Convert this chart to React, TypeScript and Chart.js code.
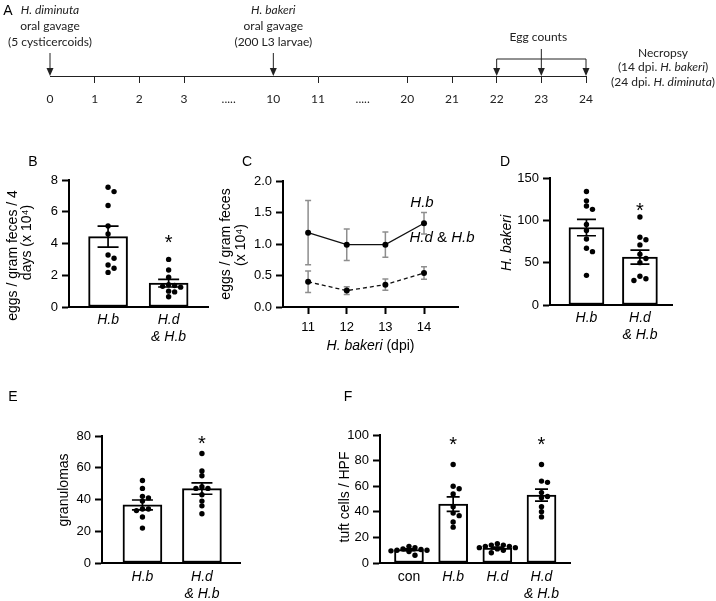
import React, { useEffect, useRef } from 'react';
import { Chart, registerables } from 'chart.js';

Chart.register(...registerables);

const SANS = '"Liberation Sans", Arial, sans-serif';
const TL_FONT = 'Lato, "Open Sans", sans-serif';
Chart.defaults.font.family = SANS;
Chart.defaults.color = '#000';

// ---------- Panel A: timeline ----------
const timelineLabels = ['0', '1', '2', '3', '.....', '10', '11', '.....', '20', '21', '22', '23', '24'];
const gavageDays = ['0', '10'];
const gavageSpecies = ['H. diminuta', 'H. bakeri'];
const gavageDoses = ['(5 cysticercoids)', '(200 L3 larvae)'];
const eggCountDays = ['22', '23', '24'];
const necropsyDay = '24';

// ---------- Panel B ----------
const bGroups = ['H.b', ['H.d', '& H.b']];
const bHb = [7.54, 7.27, 6.39, 5.1, 4.6, 3.28, 3.07, 2.65, 2.44, 2.18];
const bHdHb = [3.0, 2.33, 1.87, 1.4, 1.35, 1.3, 1.25, 1.0, 0.95, 0.65];
const bMeans = [4.43, 1.5];
const bSems = [0.66, 0.24];

// ---------- Panel C ----------
const cDays = [11, 12, 13, 14];
const cHb = [1.18, 0.99, 0.99, 1.33];
const cHbSem = [0.51, 0.25, 0.2, 0.17];
const cHdHb = [0.4, 0.26, 0.355, 0.54];
const cHdHbSem = [0.17, 0.06, 0.09, 0.1];

// ---------- Panel D ----------
const dGroups = ['H.b', ['H.d', '& H.b']];
const dHb = [134, 123, 117, 113, 95, 88, 78, 67, 63, 35];
const dHdHb = [104, 80, 77, 71, 60, 55, 50, 34, 31, 29];
const dMeans = [91.5, 56.5];
const dSems = [9.7, 8.2];

// ---------- Panel E ----------
const eGroups = ['H.b', ['H.d', '& H.b']];
const eHb = [52, 47, 42, 41, 39, 34, 34, 33, 29, 22];
const eHdHb = [69, 58, 55, 48, 47, 47, 43, 39, 36, 31];
const eMeans = [36.6, 46.9];
const eSems = [3.1, 3.6];

// ---------- Panel F ----------
const fGroups = ['con', 'H.b', 'H.d', ['H.d', '& H.b']];
const fCon = [13, 12, 11, 10.5, 10, 10, 9.5, 9, 6];
const fHb = [77, 60, 58, 54, 44, 39, 37, 32, 28];
const fHd = [15, 14, 14, 13, 13, 12, 12, 11, 10, 8];
const fHdHb = [77, 64, 63, 55, 52, 51, 44, 40, 36];
const fMeans = [10.4, 46, 11.7, 53];
const fSems = [0.7, 5.6, 0.7, 4.7];

// ---------- helpers ----------
function swarmOffsets(values: number[], pxPerY: number, step: number, minDist: number): number[] {
  const order = values.map((_, i) => i).sort((a, b) => values[b] - values[a]);
  const placed: { x: number; y: number }[] = [];
  const out = new Array(values.length).fill(0);
  order.forEach((i) => {
    const y = values[i] * pxPerY;
    for (let k = 0; k < 80; k++) {
      const m = Math.ceil(k / 2);
      const sign = k % 2 === 1 ? 1 : -1;
      const x = k === 0 ? 0 : sign * m * step;
      if (placed.every((p) => Math.hypot(p.x - x, p.y - y) >= minDist)) {
        placed.push({ x, y });
        out[i] = x;
        break;
      }
    }
  });
  return out;
}

type Seg = { t: string; i?: boolean };
function drawRich(ctx: CanvasRenderingContext2D, segs: Seg[], cx: number, cy: number, size: number, family: string) {
  const fonts = segs.map((s) => `${s.i ? 'italic ' : ''}${size}px ${family}`);
  let total = 0;
  const widths = segs.map((s, k) => {
    ctx.font = fonts[k];
    const w = ctx.measureText(s.t).width;
    total += w;
    return w;
  });
  let x = cx - total / 2;
  ctx.textAlign = 'left';
  ctx.textBaseline = 'middle';
  segs.forEach((s, k) => {
    ctx.font = fonts[k];
    ctx.fillText(s.t, x, cy);
    x += widths[k];
  });
}

type TitleLine = { segs: Seg[]; x: number; dy: number };
function drawYTitle(chart: any, lines: TitleLine[]) {
  const ctx: CanvasRenderingContext2D = chart.ctx;
  const area = chart.chartArea;
  const cy = (area.top + area.bottom) / 2;
  lines.forEach((ln) => {
    ctx.save();
    ctx.fillStyle = '#000';
    ctx.translate(ln.x, cy + ln.dy);
    ctx.rotate(-Math.PI / 2);
    drawRich(ctx, ln.segs, 0, 0, 14, SANS);
    ctx.restore();
  });
}

function arrowDown(ctx: CanvasRenderingContext2D, x: number, y0: number, y1: number) {
  const head = 8;
  const half = 3.5;
  ctx.beginPath();
  ctx.moveTo(x, y0);
  ctx.lineTo(x, y1 - head + 1);
  ctx.stroke();
  ctx.beginPath();
  ctx.moveTo(x - half, y1 - head);
  ctx.lineTo(x + half, y1 - head);
  ctx.lineTo(x, y1);
  ctx.closePath();
  ctx.fill();
}

function drawLetter(ctx: CanvasRenderingContext2D, letter: string, x: number, y: number) {
  ctx.save();
  ctx.fillStyle = '#000';
  ctx.font = `14px ${SANS}`;
  ctx.textAlign = 'center';
  ctx.textBaseline = 'middle';
  ctx.fillText(letter, x, y);
  ctx.restore();
}

// ---------- Panel A chart ----------
function makeTimeline(canvas: HTMLCanvasElement) {
  const hidden = (lbl: string) => lbl === '.....' || gavageDays.includes(lbl);
  const decor = {
    id: 'timelineDecor',
    afterDraw(chart: any) {
      const ctx: CanvasRenderingContext2D = chart.ctx;
      const xs = chart.scales.x;
      const px = (lbl: string) => xs.getPixelForValue(timelineLabels.indexOf(lbl));
      const axisY = chart.chartArea.bottom;
      ctx.save();
      drawLetter(ctx, 'A', 8, 11);
      ctx.fillStyle = '#222';
      ctx.strokeStyle = '#222';
      ctx.lineWidth = 1;
      gavageDays.forEach((d, k) => {
        const x = px(d);
        drawRich(ctx, [{ t: gavageSpecies[k], i: true }], x, 10, 12, TL_FONT);
        drawRich(ctx, [{ t: 'oral gavage' }], x, 26, 12, TL_FONT);
        drawRich(ctx, [{ t: gavageDoses[k] }], x, 42, 12, TL_FONT);
        arrowDown(ctx, x, 53, axisY);
      });
      const x22 = px(eggCountDays[0]);
      const x23 = px(eggCountDays[1]);
      const x24 = px(eggCountDays[2]);
      drawRich(ctx, [{ t: 'Egg counts' }], x23 - 3, 37, 12, TL_FONT);
      ctx.beginPath();
      ctx.moveTo(x22, 59);
      ctx.lineTo(x24, 59);
      ctx.stroke();
      arrowDown(ctx, x22, 59, axisY);
      arrowDown(ctx, x23, 49, axisY);
      arrowDown(ctx, x24, 59, axisY);
      const xn = px(necropsyDay) + 77;
      drawRich(ctx, [{ t: 'Necropsy' }], xn, 53, 12, TL_FONT);
      drawRich(ctx, [{ t: '(14 dpi. ' }, { t: 'H. bakeri', i: true }, { t: ')' }], xn, 67, 12, TL_FONT);
      drawRich(ctx, [{ t: '(24 dpi. ' }, { t: 'H. diminuta', i: true }, { t: ')' }], xn, 82, 12, TL_FONT);
      ctx.restore();
    },
  };
  return new Chart(canvas, {
    type: 'line',
    data: { labels: timelineLabels, datasets: [] },
    options: {
      responsive: false,
      animation: false,
      layout: { padding: { left: 50, right: 130, top: 40, bottom: 0 } },
      plugins: { legend: { display: false }, tooltip: { enabled: false } },
      scales: {
        x: {
          type: 'category',
          offset: false,
          grid: {
            display: true,
            drawOnChartArea: false,
            drawTicks: true,
            tickLength: 7,
            tickWidth: 1,
            tickColor: (c: any) => (hidden(timelineLabels[c.index]) ? 'rgba(0,0,0,0)' : '#222'),
          },
          border: { display: true, color: '#222', width: 1 },
          ticks: { autoSkip: false, maxRotation: 0, padding: 9, color: '#222', font: { family: TL_FONT, size: 12 } },
          afterFit: (s: any) => {
            s.height = 44;
          },
        },
        y: { display: false, min: 0, max: 1 },
      },
    } as any,
    plugins: [decor],
  });
}

// ---------- bar panels ----------
interface BarCfg {
  letter: string;
  letterX: number;
  letterY: number;
  width: number;
  height: number;
  yAxisW: number;
  xAxisH: number;
  padTop: number;
  padRight: number;
  xMin: number;
  xMax: number;
  yMax: number;
  yStep: number;
  groups: (string | string[])[];
  italic: boolean[];
  dots: number[][];
  means: number[];
  sems: number[];
  stars: number[];
  starLevel: number;
  barW: number;
  capHalf: number;
  yTitle: TitleLine[];
  xLabelPad: number;
}

function makeBarChart(canvas: HTMLCanvasElement, c: BarCfg) {
  const plotW = c.width - c.yAxisW - c.padRight;
  const plotH = c.height - c.padTop - c.xAxisH;
  const pxPerX = plotW / (c.xMax - c.xMin);
  const pxPerY = plotH / c.yMax;
  const dotData = c.dots.flatMap((vals, g) => {
    const offs = swarmOffsets(vals, pxPerY, 6, 4.6);
    return vals.map((v, i) => ({ x: g + 1 + offs[i] / pxPerX, y: v }));
  });
  const decor = {
    id: 'barDecor',
    afterDatasetsDraw(chart: any) {
      const ctx: CanvasRenderingContext2D = chart.ctx;
      const { x, y } = chart.scales;
      ctx.save();
      ctx.strokeStyle = '#000';
      ctx.lineWidth = 1.7;
      c.means.forEach((m, i) => {
        const cx = x.getPixelForValue(i + 1);
        const t = y.getPixelForValue(m + c.sems[i]);
        const b = y.getPixelForValue(m - c.sems[i]);
        ctx.beginPath();
        ctx.moveTo(cx, t);
        ctx.lineTo(cx, b);
        ctx.moveTo(cx - c.capHalf, t);
        ctx.lineTo(cx + c.capHalf, t);
        ctx.moveTo(cx - c.capHalf, b);
        ctx.lineTo(cx + c.capHalf, b);
        ctx.stroke();
      });
      ctx.fillStyle = '#000';
      ctx.font = `20px ${SANS}`;
      ctx.textAlign = 'center';
      ctx.textBaseline = 'alphabetic';
      c.stars.forEach((g) => {
        ctx.fillText('*', x.getPixelForValue(g + 1), y.getPixelForValue(c.starLevel) + 11.5);
      });
      ctx.restore();
    },
    afterDraw(chart: any) {
      drawYTitle(chart, c.yTitle);
      drawLetter(chart.ctx, c.letter, c.letterX, c.letterY);
    },
  };
  return new Chart(canvas, {
    type: 'bar',
    data: {
      datasets: [
        {
          type: 'scatter',
          data: dotData,
          pointRadius: 2.7,
          pointBackgroundColor: '#000',
          pointBorderColor: '#000',
          pointBorderWidth: 0,
          clip: false,
          order: 0,
        },
        {
          type: 'bar',
          data: c.means.map((m, i) => ({ x: i + 1, y: m })),
          backgroundColor: '#fff',
          borderColor: '#000',
          borderWidth: 2,
          borderSkipped: false,
          barThickness: c.barW,
          order: 1,
        },
      ],
    },
    options: {
      responsive: false,
      animation: false,
      layout: { padding: { left: 0, top: c.padTop, right: c.padRight, bottom: 0 } },
      plugins: { legend: { display: false }, tooltip: { enabled: false } },
      scales: {
        x: {
          type: 'linear',
          min: c.xMin,
          max: c.xMax,
          offset: false,
          afterBuildTicks: (s: any) => {
            s.ticks = c.groups.map((_, i) => ({ value: i + 1 }));
          },
          ticks: {
            autoSkip: false,
            maxRotation: 0,
            padding: c.xLabelPad,
            color: '#000',
            callback: (v: any) => c.groups[Math.round(Number(v)) - 1] ?? '',
            font: (ctx: any) => ({ family: SANS, size: 14, style: c.italic[ctx.index] ? 'italic' : 'normal' }),
          },
          grid: { display: false, drawTicks: false, offset: false },
          border: { display: true, color: '#000', width: 2 },
          afterFit: (s: any) => {
            s.height = c.xAxisH;
          },
        },
        y: {
          type: 'linear',
          min: 0,
          max: c.yMax,
          ticks: { stepSize: c.yStep, padding: 4, color: '#000', font: { family: SANS, size: 13 } },
          grid: { display: true, drawOnChartArea: false, drawTicks: true, tickLength: 7, tickWidth: 2, tickColor: '#000' },
          border: { display: true, color: '#000', width: 2 },
          title: { display: false },
          afterFit: (s: any) => {
            s.width = c.yAxisW;
          },
        },
      },
    } as any,
    plugins: [decor],
  });
}

// ---------- Panel C ----------
function makeLineChart(canvas: HTMLCanvasElement) {
  const decor = {
    id: 'lineDecor',
    beforeDatasetsDraw(chart: any) {
      const ctx: CanvasRenderingContext2D = chart.ctx;
      const { x, y } = chart.scales;
      ctx.save();
      ctx.strokeStyle = '#8e8e8e';
      ctx.lineWidth = 1.5;
      const series: [number[], number[]][] = [
        [cHb, cHbSem],
        [cHdHb, cHdHbSem],
      ];
      series.forEach(([vals, sems]) => {
        cDays.forEach((d, i) => {
          const cx = x.getPixelForValue(d);
          const t = y.getPixelForValue(vals[i] + sems[i]);
          const b = y.getPixelForValue(vals[i] - sems[i]);
          ctx.beginPath();
          ctx.moveTo(cx, t);
          ctx.lineTo(cx, b);
          ctx.moveTo(cx - 3, t);
          ctx.lineTo(cx + 3, t);
          ctx.moveTo(cx - 3, b);
          ctx.lineTo(cx + 3, b);
          ctx.stroke();
        });
      });
      ctx.restore();
    },
    afterDraw(chart: any) {
      const ctx: CanvasRenderingContext2D = chart.ctx;
      const { x, y } = chart.scales;
      const area = chart.chartArea;
      const last = cDays.length - 1;
      const xl = x.getPixelForValue(cDays[last]);
      ctx.save();
      ctx.fillStyle = '#000';
      drawRich(ctx, [{ t: 'H.b', i: true }], xl - 2, y.getPixelForValue(cHb[last]) - 20, 15, SANS);
      drawRich(ctx, [{ t: 'H.d', i: true }, { t: ' & ' }, { t: 'H.b', i: true }], xl + 18, y.getPixelForValue(cHdHb[last]) - 35, 15, SANS);
      drawRich(ctx, [{ t: 'H. bakeri', i: true }, { t: ' (dpi)' }], (area.left + area.right) / 2, 196, 14, SANS);
      ctx.restore();
      drawYTitle(chart, [
        { segs: [{ t: 'eggs / gram feces' }], x: 10, dy: 0 },
        { segs: [{ t: '(x 10⁴)' }], x: 25.5, dy: 1 },
      ]);
      drawLetter(ctx, 'C', 31, 12);
    },
  };
  const pt = { pointRadius: 3, pointBackgroundColor: '#000', pointBorderColor: '#000', pointBorderWidth: 0 };
  return new Chart(canvas, {
    type: 'line',
    data: {
      datasets: [
        { data: cDays.map((d, i) => ({ x: d, y: cHb[i] })), borderColor: '#111', borderWidth: 1.3, clip: false, ...pt },
        {
          data: cDays.map((d, i) => ({ x: d, y: cHdHb[i] })),
          borderColor: '#111',
          borderWidth: 1.3,
          borderDash: [4, 3],
          clip: false,
          ...pt,
        },
      ],
    },
    options: {
      responsive: false,
      animation: false,
      layout: { padding: { left: 0, top: 31, right: 18, bottom: 0 } },
      plugins: { legend: { display: false }, tooltip: { enabled: false } },
      scales: {
        x: {
          type: 'linear',
          min: 10.35,
          max: 14.88,
          afterBuildTicks: (s: any) => {
            s.ticks = cDays.map((v) => ({ value: v }));
          },
          ticks: { autoSkip: false, maxRotation: 0, padding: 6, color: '#000', font: { family: SANS, size: 13 } },
          grid: { display: true, drawOnChartArea: false, drawTicks: true, tickLength: 7, tickWidth: 2, tickColor: '#000' },
          border: { display: true, color: '#000', width: 2 },
          afterFit: (s: any) => {
            s.height = 53;
          },
        },
        y: {
          type: 'linear',
          min: 0,
          max: 2,
          ticks: {
            stepSize: 0.5,
            padding: 4,
            color: '#000',
            font: { family: SANS, size: 13 },
            callback: (v: any) => Number(v).toFixed(1),
          },
          grid: { display: true, drawOnChartArea: false, drawTicks: true, tickLength: 7, tickWidth: 2, tickColor: '#000' },
          border: { display: true, color: '#000', width: 2 },
          title: { display: false },
          afterFit: (s: any) => {
            s.width = 67;
          },
        },
      },
    } as any,
    plugins: [decor],
  });
}

// ---------- layout ----------
const bCfg: BarCfg = {
  letter: 'B', letterX: 33, letterY: 12,
  width: 225, height: 200, yAxisW: 69, xAxisH: 43, padTop: 30, padRight: 17,
  xMin: 0.355, xMax: 2.65, yMax: 8, yStep: 2,
  groups: bGroups, italic: [true, true], dots: [bHb, bHdHb], means: bMeans, sems: bSems,
  stars: [1], starLevel: 4.35, barW: 39, capHalf: 10.5,
  yTitle: [
    { segs: [{ t: 'eggs / gram feces / 4' }], x: 13.5, dy: 12 },
    { segs: [{ t: 'days (x 10⁴)' }], x: 27.5, dy: -1 },
  ],
  xLabelPad: 5,
};
const dCfg: BarCfg = {
  letter: 'D', letterX: 15, letterY: 12,
  width: 226, height: 200, yAxisW: 60, xAxisH: 45, padTop: 28, padRight: 44,
  xMin: 0.318, xMax: 2.6, yMax: 150, yStep: 50,
  groups: dGroups, italic: [true, true], dots: [dHb, dHdHb], means: dMeans, sems: dSems,
  stars: [1], starLevel: 118, barW: 35, capHalf: 9.5,
  yTitle: [{ segs: [{ t: 'H. bakeri', i: true }], x: 17, dy: 1.5 }],
  xLabelPad: 5,
};
const eCfg: BarCfg = {
  letter: 'E', letterX: 13, letterY: 12,
  width: 260, height: 216, yAxisW: 102, xAxisH: 38, padTop: 51, padRight: 20,
  xMin: 0.32, xMax: 2.64, yMax: 80, yStep: 20,
  groups: eGroups, italic: [true, true], dots: [eHb, eHdHb], means: eMeans, sems: eSems,
  stars: [1], starLevel: 78.5, barW: 39, capHalf: 10.5,
  yTitle: [{ segs: [{ t: 'granulomas' }], x: 64, dy: -9.5 }],
  xLabelPad: 6,
};
const fCfg: BarCfg = {
  letter: 'F', letterX: 18, letterY: 12,
  width: 386, height: 216, yAxisW: 50, xAxisH: 38, padTop: 50, padRight: 146,
  xMin: 0.344, xMax: 4.645, yMax: 100, yStep: 20,
  groups: fGroups, italic: [false, true, true, true], dots: [fCon, fHb, fHd, fHdHb], means: fMeans, sems: fSems,
  stars: [1, 3], starLevel: 96.6, barW: 29, capHalf: 6.5,
  yTitle: [{ segs: [{ t: 'tuft cells / HPF' }], x: 15, dy: -2 }],
  xLabelPad: 6,
};

function ChartBox(props: { left: number; top: number; width: number; height: number; make: (c: HTMLCanvasElement) => Chart }) {
  const ref = useRef<HTMLCanvasElement>(null);
  useEffect(() => {
    const chart = props.make(ref.current as HTMLCanvasElement);
    return () => chart.destroy();
  }, []);
  return (
    <canvas
      ref={ref}
      width={props.width}
      height={props.height}
      style={{ position: 'absolute', left: props.left, top: props.top, width: props.width, height: props.height }}
    />
  );
}

export default function App() {
  return (
    <div style={{ position: 'absolute', left: 0, top: 0, width: 716, height: 601, background: '#fff', overflow: 'hidden' }}>
      <ChartBox left={0} top={0} width={716} height={120} make={makeTimeline} />
      <ChartBox left={0} top={150} width={225} height={200} make={(c) => makeBarChart(c, bCfg)} />
      <ChartBox left={216} top={150} width={260} height={210} make={makeLineChart} />
      <ChartBox left={490} top={150} width={226} height={200} make={(c) => makeBarChart(c, dCfg)} />
      <ChartBox left={0} top={385} width={260} height={216} make={(c) => makeBarChart(c, eCfg)} />
      <ChartBox left={330} top={385} width={386} height={216} make={(c) => makeBarChart(c, fCfg)} />
    </div>
  );
}
